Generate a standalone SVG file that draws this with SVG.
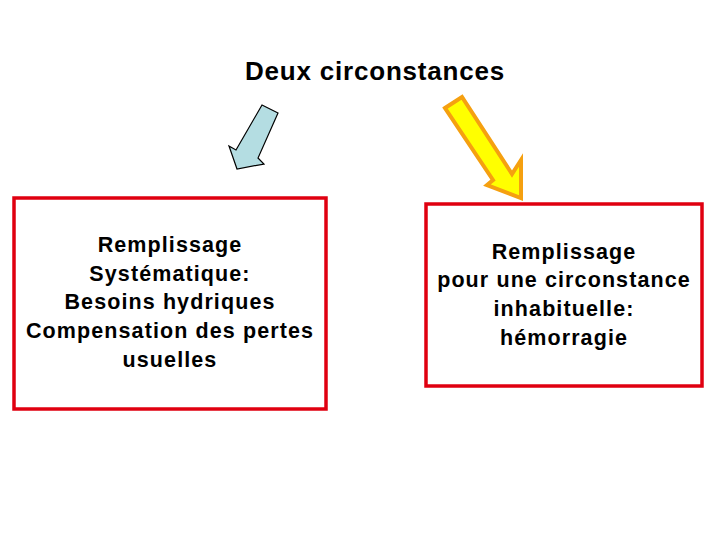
<svg xmlns="http://www.w3.org/2000/svg" width="720" height="540" viewBox="0 0 720 540">
<style>
  text { font-family: "Liberation Sans", Arial, sans-serif; font-weight: bold; fill: #000; text-anchor: middle; }
  .title { font-size: 26px; letter-spacing: 0.8px; }
  .body { font-size: 21.5px; letter-spacing: 1.1px; }
  .box { fill: #fff; stroke: #e00010; stroke-width: 3.5; }
</style>
<rect width="720" height="540" fill="#fff"/>
<g id="title"><text class="title" x="375" y="80">Deux circonstances</text></g>
<g id="connectors">
  <polygon points="262,105 278,113 258,158 264,164 237,169 229,146 236,150" fill="#b4dde2" stroke="#000" stroke-width="1.2" stroke-linejoin="miter"/>
  <polygon points="445,108 462,97 512,174 521,160 521,198 487,185 493,180" fill="#ffff00" stroke="#f5a010" stroke-width="4" stroke-linejoin="miter"/>
</g>
<g id="left">
  <rect class="box" x="14" y="198" width="312" height="211"/>
  <text class="body" x="170" y="252">Remplissage</text>
  <text class="body" x="170" y="281">Systématique:</text>
  <text class="body" x="170" y="309">Besoins hydriques</text>
  <text class="body" x="170" y="338">Compensation des pertes</text>
  <text class="body" x="170" y="367">usuelles</text>
</g>
<g id="right">
  <rect class="box" x="426" y="204" width="276" height="182"/>
  <text class="body" x="564" y="259">Remplissage</text>
  <text class="body" x="564" y="287">pour une circonstance</text>
  <text class="body" x="564" y="316">inhabituelle:</text>
  <text class="body" x="564" y="345">hémorragie</text>
</g>
</svg>
